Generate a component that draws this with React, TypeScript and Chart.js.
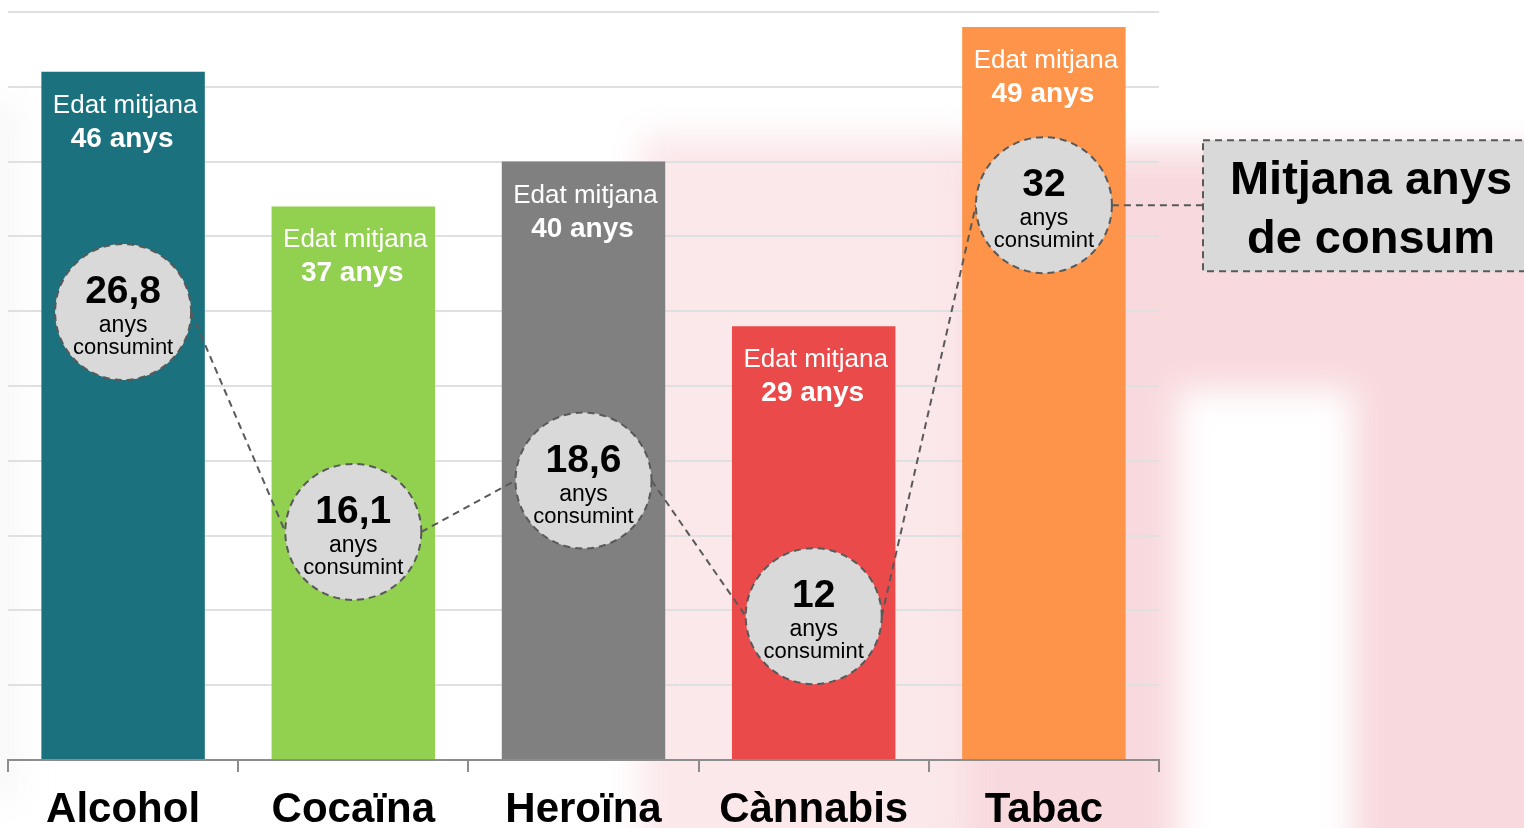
import React, { useEffect, useRef } from "react";
import { Chart, registerables } from "chart.js";

Chart.register(...registerables);

const categories = ["Alcohol", "Cocaïna", "Heroïna", "Cànnabis", "Tabac"];
const averageAge = [46, 37, 40, 29, 49];
const yearsConsuming = [26.8, 16.1, 18.6, 12, 32];
const barColors = ["#1b717d", "#92d050", "#808080", "#eb4a4a", "#fe944a"];
const ageTitle = "Edat mitjana";
const unitText = "anys";
const consumingText = "consumint";
const boxLines = ["Mitjana anys", "de consum"];

const FONT = '"Liberation Sans", Arial, Helvetica, sans-serif';

const fmt = (v: number) => String(v).replace(".", ",");

const overlayPlugin = {
  id: "overlay",
  beforeDraw(chart: any) {
    const ctx = chart.ctx as CanvasRenderingContext2D;
    ctx.save();
    ctx.filter = "blur(16px)";
    ctx.fillStyle = "rgba(246,205,210,0.45)";
    ctx.fillRect(640, 135, 330, 720);
    ctx.fillStyle = "rgba(247,212,216,0.85)";
    ctx.fillRect(960, 150, 600, 720);
    ctx.fillStyle = "#ffffff";
    ctx.fillRect(1178, 390, 175, 480);
    ctx.fillStyle = "rgba(235,235,235,0.35)";
    ctx.fillRect(-20, 100, 40, 700);
    ctx.restore();
  },
  afterDatasetsDraw(chart: any) {
    const ctx = chart.ctx as CanvasRenderingContext2D;
    const barMeta = chart.getDatasetMeta(0);
    const ptMeta = chart.getDatasetMeta(1);
    const R = 68;

    ctx.save();
    ctx.textAlign = "center";
    ctx.textBaseline = "alphabetic";
    ctx.fillStyle = "#ffffff";
    barMeta.data.forEach((bar: any, i: number) => {
      ctx.font = `26px ${FONT}`;
      ctx.fillText(ageTitle, bar.x + 2, bar.y + 41);
      ctx.font = `bold 28px ${FONT}`;
      ctx.fillText(`${averageAge[i]} ${unitText}`, bar.x - 1, bar.y + 75);
    });

    const pts = ptMeta.data;
    ctx.setLineDash([7, 5]);
    ctx.strokeStyle = "#595959";
    ctx.lineWidth = 2;
    ctx.beginPath();
    for (let i = 0; i < pts.length - 1; i++) {
      ctx.moveTo(pts[i].x + R, pts[i].y);
      ctx.lineTo(pts[i + 1].x - R, pts[i + 1].y);
    }
    const last = pts[pts.length - 1];
    const boxLeft = chart.chartArea.right + 44;
    ctx.moveTo(last.x + R, last.y);
    ctx.lineTo(boxLeft, last.y);
    ctx.stroke();

    const boxTop = last.y - 65;
    const boxH = 131;
    ctx.fillStyle = "#d9d9d9";
    ctx.fillRect(boxLeft, boxTop, 360, boxH);
    ctx.strokeRect(boxLeft, boxTop, 360, boxH);
    ctx.setLineDash([]);
    ctx.fillStyle = "#000000";
    ctx.font = `bold 47px ${FONT}`;
    ctx.textAlign = "center";
    ctx.fillText(boxLines[0], boxLeft + 168, boxTop + 54);
    ctx.fillText(boxLines[1], boxLeft + 168, boxTop + 113);

    pts.forEach((p: any, i: number) => {
      ctx.setLineDash([7, 5]);
      ctx.beginPath();
      ctx.arc(p.x, p.y, R, 0, Math.PI * 2);
      ctx.fillStyle = "#d9d9d9";
      ctx.fill();
      ctx.strokeStyle = "#595959";
      ctx.lineWidth = 2;
      ctx.stroke();
      ctx.setLineDash([]);
      ctx.fillStyle = "#000000";
      ctx.font = `bold 39px ${FONT}`;
      ctx.fillText(fmt(yearsConsuming[i]), p.x, p.y - 9);
      ctx.font = `23px ${FONT}`;
      ctx.fillText(unitText, p.x, p.y + 20);
      ctx.font = `22px ${FONT}`;
      ctx.fillText(consumingText, p.x, p.y + 42);
    });
    ctx.restore();
  },
};

export default function App() {
  const canvasRef = useRef<HTMLCanvasElement | null>(null);

  useEffect(() => {
    if (!canvasRef.current) return;
    const chart = new Chart(canvasRef.current, {
      data: {
        labels: categories,
        datasets: [
          {
            type: "bar",
            data: averageAge,
            backgroundColor: barColors,
            borderWidth: 0,
            barPercentage: 0.71,
            categoryPercentage: 1,
            yAxisID: "y",
            order: 2,
          },
          {
            type: "line",
            data: yearsConsuming,
            showLine: false,
            pointRadius: 0,
            yAxisID: "y2",
            order: 1,
          },
        ],
      } as any,
      options: {
        responsive: true,
        maintainAspectRatio: false,
        animation: false,
        layout: { padding: { left: 8, right: 365, top: 12, bottom: 0 } },
        plugins: {
          legend: { display: false },
          tooltip: { enabled: false },
        },
        scales: {
          x: {
            grid: {
              display: true,
              drawOnChartArea: false,
              drawTicks: true,
              tickLength: 12,
              color: "#8c8c8c",
              lineWidth: 2,
            },
            border: { display: true, color: "#8c8c8c", width: 2 },
            ticks: {
              color: "#000000",
              padding: 13,
              font: { family: FONT, size: 42, weight: "bold" },
            },
            afterFit: (scale: any) => {
              scale.height = 68;
            },
          },
          y: {
            min: 0,
            max: 50,
            ticks: { display: false, stepSize: 5 },
            grid: { color: "#e0e0e0", lineWidth: 2, drawTicks: false },
            border: { display: false },
          },
          y2: {
            display: false,
            min: 5,
            max: 41.4,
          },
        },
      } as any,
      plugins: [overlayPlugin],
    });
    return () => chart.destroy();
  }, []);

  return (
    <div style={{ position: "absolute", left: 0, top: 0, width: 1524, height: 828, overflow: "hidden" }}>
      <canvas ref={canvasRef} />
    </div>
  );
}
